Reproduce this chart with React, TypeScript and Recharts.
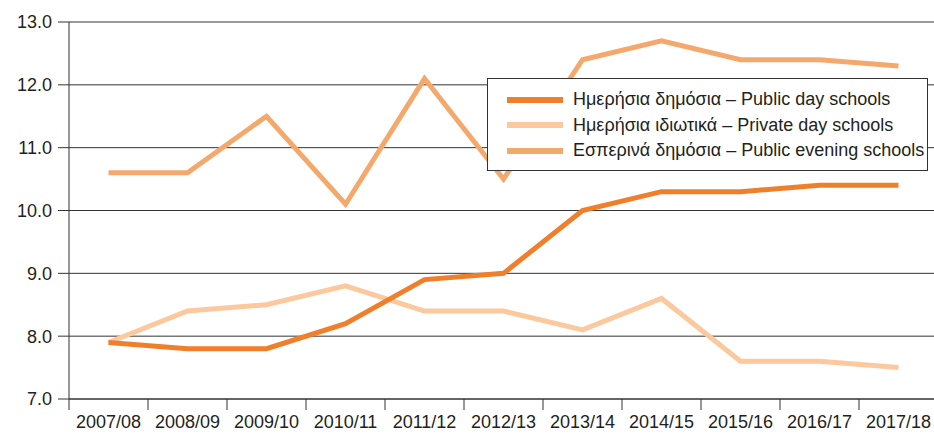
import React from "react";
import { LineChart, Line, XAxis, YAxis, CartesianGrid } from "recharts";

const years = ["2007/08", "2008/09", "2009/10", "2010/11", "2011/12", "2012/13", "2013/14", "2014/15", "2015/16", "2016/17", "2017/18"];
const publicDay = [7.9, 7.8, 7.8, 8.2, 8.9, 9.0, 10.0, 10.3, 10.3, 10.4, 10.4];
const privateDay = [7.9, 8.4, 8.5, 8.8, 8.4, 8.4, 8.1, 8.6, 7.6, 7.6, 7.5];
const publicEvening = [10.6, 10.6, 11.5, 10.1, 12.1, 10.5, 12.4, 12.7, 12.4, 12.4, 12.3];
const yTicks = [7, 8, 9, 10, 11, 12, 13];

const seriesNames = {
  publicDay: "Ημερήσια δημόσια – Public day schools",
  privateDay: "Ημερήσια ιδιωτικά – Private day schools",
  publicEvening: "Εσπερινά δημόσια – Public evening schools",
};
const colors = {
  publicDay: "#F07F2C",
  privateDay: "#FCC89E",
  publicEvening: "#F5A86C",
};

const data = years.map((y, i) => ({
  x: i + 0.5,
  year: y,
  publicDay: publicDay[i],
  privateDay: privateDay[i],
  publicEvening: publicEvening[i],
}));

const xTicks: number[] = [];
for (let i = 0; i <= years.length; i++) {
  xTicks.push(i);
  if (i < years.length) xTicks.push(i + 0.5);
}

const FONT = "'Liberation Sans', Arial, Helvetica, sans-serif";
const TEXT = "#231F20";
const AXIS = "#333333";

const XTick = (props: any) => {
  const { x, y, payload } = props;
  const v = payload.value as number;
  if (Number.isInteger(v)) {
    return <line x1={x} y1={y} x2={x} y2={y + 11} stroke={AXIS} strokeWidth={1} />;
  }
  const idx = Math.floor(v);
  return (
    <text x={x} y={y + 29} textAnchor="middle" fill={TEXT} fontSize={18} fontFamily={FONT}>
      {years[idx]}
    </text>
  );
};

const LegendBox = () => {
  const keys: (keyof typeof seriesNames)[] = ["publicDay", "privateDay", "publicEvening"];
  return (
    <div
      style={{
        position: "absolute",
        left: 487,
        top: 78,
        border: "1px solid #333",
        background: "#fff",
        width: 441,
        height: 93,
        boxSizing: "border-box",
        paddingTop: 8,
        fontFamily: FONT,
      }}
    >
      {keys.map((k) => (
        <div key={k} style={{ display: "flex", alignItems: "center", height: 25.5 }}>
          <div style={{ width: 56, height: 6, background: colors[k], marginLeft: 19, marginRight: 10 }} />
          <span style={{ fontSize: 18, color: TEXT, whiteSpace: "nowrap" }}>{seriesNames[k]}</span>
        </div>
      ))}
    </div>
  );
};

export default function App() {
  return (
    <div style={{ position: "absolute", left: 0, top: 0, width: 934, height: 434, overflow: "hidden", background: "#fff" }}>
      <LineChart width={940} height={434} data={data} margin={{ top: 22, right: 2, bottom: 0, left: 0 }}>
        <CartesianGrid horizontal vertical={false} stroke={AXIS} strokeWidth={1} />
        <XAxis
          dataKey="x"
          type="number"
          domain={[0, 11]}
          ticks={xTicks}
          interval={0}
          height={35}
          tickSize={0}
          tickMargin={0}
          tickLine={false}
          axisLine={{ stroke: AXIS }}
          tick={<XTick />}
        />
        <YAxis
          domain={[7, 13]}
          ticks={yTicks}
          interval={0}
          width={69}
          tickSize={11}
          tickMargin={6}
          tickLine={{ stroke: AXIS }}
          axisLine={{ stroke: AXIS }}
          tickFormatter={(v: number) => v.toFixed(1)}
          tick={{ fill: TEXT, fontSize: 18, fontFamily: FONT }}
        />
        <Line dataKey="publicEvening" name={seriesNames.publicEvening} stroke={colors.publicEvening} strokeWidth={5} dot={false} isAnimationActive={false} strokeLinejoin="miter" />
        <Line dataKey="privateDay" name={seriesNames.privateDay} stroke={colors.privateDay} strokeWidth={5} dot={false} isAnimationActive={false} strokeLinejoin="miter" />
        <Line dataKey="publicDay" name={seriesNames.publicDay} stroke={colors.publicDay} strokeWidth={5} dot={false} isAnimationActive={false} strokeLinejoin="miter" />
      </LineChart>
      <LegendBox />
    </div>
  );
}
